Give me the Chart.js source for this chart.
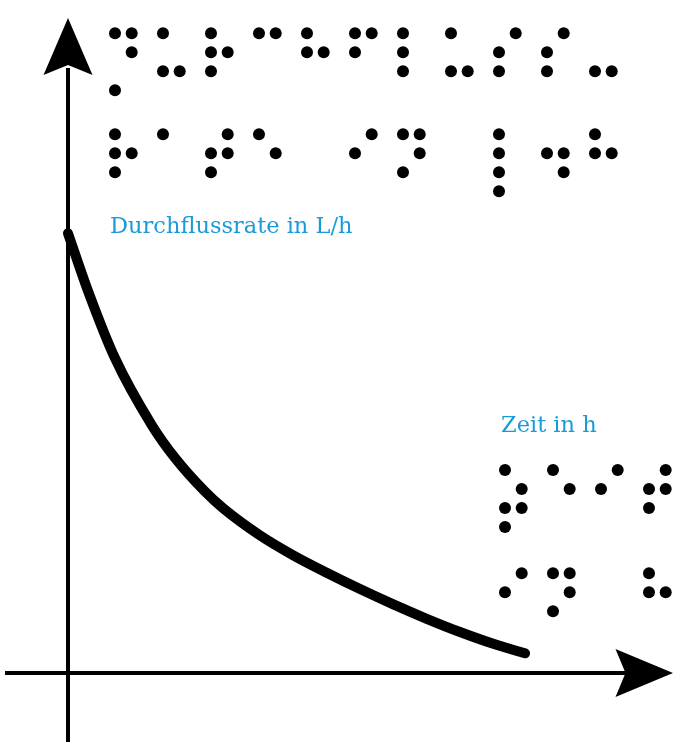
<!DOCTYPE html>
<html lang="de">
<head>
<meta charset="utf-8">
<title>Durchflussrate über Zeit</title>
<script src="https://cdn.jsdelivr.net/npm/chart.js@4/dist/chart.umd.min.js"></script>
<style>
  html, body { margin: 0; padding: 0; background: #ffffff; }
  #wrap { width: 678px; height: 742px; position: relative; }
  canvas { display: block; }
</style>
</head>
<body>
<div id="wrap"><canvas id="c" width="678" height="742" aria-label="Durchflussrate in L/h über Zeit in h"></canvas></div>
<script>
// ---- Data ----
const timeHours = [0, 0.443, 1.026, 1.828, 2.336, 2.991, 3.391, 4.192, 4.919, 5.649, 6.376, 7.103, 7.832, 8.559, 9.286, 9.98];
const flowRate  = [100, 86.72, 71.59, 56.40, 48.92, 41.26, 37.43, 31.29, 26.75, 22.79, 19.08, 15.60, 12.33, 9.32, 6.64, 4.48];

// ---- Labels ----
const yAxisLabel = "Durchflussrate in L/h";
const xAxisLabel = "Zeit in h";
// 8-dot (computer) braille for the labels
const yAxisBraille = ["\u2859\u2825\u2817\u2809\u2813\u280B\u2807\u2825\u280E\u280E\u2824",
                      "\u2817\u2801\u281E\u2811\u2800\u280A\u281D\u2800\u2847\u2832\u2813"];
const xAxisBraille = ["\u2875\u2811\u280A\u281E",
                      "\u280A\u281D\u2800\u2813"];

// ---- Layout constants ----
const W = 678, H = 742;
const originPx = { x: 68, y: 673 };
const pxPerHour = 45.8;
const pxPerUnit = 4.397;
const labelColor = '#1a9bd7';

const points = timeHours.map((t, i) => ({ x: t, y: flowRate[i] }));

function drawArrowAxes(chart) {
  const ctx = chart.ctx;
  const xs = chart.scales.x, ys = chart.scales.y;
  const ox = xs.getPixelForValue(0), oy = ys.getPixelForValue(0);
  ctx.save();
  ctx.strokeStyle = '#000'; ctx.fillStyle = '#000';
  ctx.lineWidth = 4; ctx.lineCap = 'butt';
  // y axis
  ctx.beginPath(); ctx.moveTo(ox, H); ctx.lineTo(ox, 68); ctx.stroke();
  ctx.beginPath();
  ctx.moveTo(ox, 18); ctx.lineTo(ox + 24.5, 75); ctx.lineTo(ox, 65); ctx.lineTo(ox - 24.5, 75); ctx.closePath(); ctx.fill();
  // x axis
  ctx.beginPath(); ctx.moveTo(5, oy); ctx.lineTo(628, oy); ctx.stroke();
  ctx.beginPath();
  ctx.moveTo(673, oy); ctx.lineTo(615.5, oy - 24); ctx.lineTo(625.5, oy); ctx.lineTo(615.5, oy + 24); ctx.closePath(); ctx.fill();
  ctx.restore();
}

function drawBraille(ctx, lines, x0, y0, lineGap) {
  const colGap = 16.7, rowGap = 19, cellPitch = 48, r = 6;
  const map = [[0,0],[0,1],[0,2],[1,0],[1,1],[1,2],[0,3],[1,3]];
  ctx.fillStyle = '#000';
  lines.forEach((line, li) => {
    Array.from(line).forEach((ch, ci) => {
      const bits = ch.codePointAt(0) - 0x2800;
      for (let b = 0; b < 8; b++) {
        if (bits & (1 << b)) {
          const [c, rr] = map[b];
          ctx.beginPath();
          ctx.arc(x0 + ci * cellPitch + c * colGap, y0 + li * lineGap + rr * rowGap, r, 0, Math.PI * 2);
          ctx.fill();
        }
      }
    });
  });
}

const decorPlugin = {
  id: 'decor',
  beforeDatasetsDraw(chart) {
    drawArrowAxes(chart);
  },
  afterDraw(chart) {
    const ctx = chart.ctx;
    ctx.save();
    drawBraille(ctx, yAxisBraille, 115, 33.3, 101);
    drawBraille(ctx, xAxisBraille, 505, 470, 103.3);
    ctx.fillStyle = labelColor;
    ctx.font = '22.5px "DejaVu Serif", serif';
    ctx.textBaseline = 'alphabetic';
    ctx.textAlign = 'left';
    ctx.fillText(yAxisLabel, 110, 233);
    ctx.fillText(xAxisLabel, 501, 432);
    ctx.restore();
  }
};

new Chart(document.getElementById('c'), {
  type: 'scatter',
  data: {
    datasets: [{
      data: points,
      showLine: true,
      borderColor: '#000',
      borderWidth: 10,
      borderCapStyle: 'round',
      borderJoinStyle: 'round',
      pointRadius: 0,
      cubicInterpolationMode: 'monotone',
      fill: false,
      clip: false
    }]
  },
  options: {
    responsive: false,
    animation: false,
    layout: { padding: 0 },
    plugins: { legend: { display: false }, tooltip: { enabled: false } },
    scales: {
      x: { type: 'linear', display: false,
           min: -originPx.x / pxPerHour, max: (W - originPx.x) / pxPerHour },
      y: { type: 'linear', display: false,
           min: -(H - originPx.y) / pxPerUnit, max: originPx.y / pxPerUnit }
    }
  },
  plugins: [decorPlugin]
});
</script>
</body>
</html>
